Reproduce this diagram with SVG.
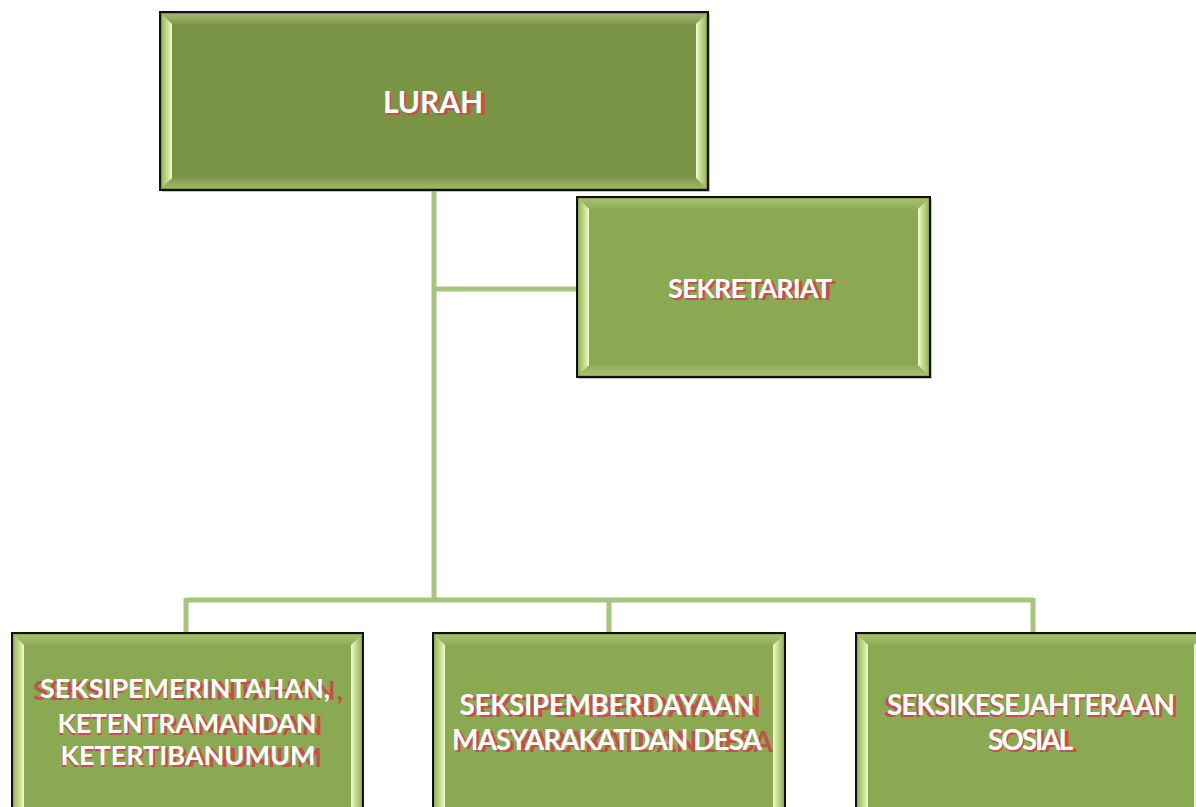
<svg xmlns="http://www.w3.org/2000/svg" width="1196" height="807" viewBox="0 0 1196 807">
<defs>
<linearGradient id="bl" x1="0" y1="0" x2="1" y2="0"><stop offset="0" stop-color="#9fb866"/><stop offset="0.7" stop-color="#d2e7a0"/><stop offset="1" stop-color="#f6ffd6"/></linearGradient>
<linearGradient id="br" x1="1" y1="0" x2="0" y2="0"><stop offset="0" stop-color="#9fb866"/><stop offset="0.7" stop-color="#d2e7a0"/><stop offset="1" stop-color="#f6ffd6"/></linearGradient>
<linearGradient id="bt" x1="0" y1="0" x2="0" y2="1"><stop offset="0" stop-color="#b8cf8a" stop-opacity="0.6"/><stop offset="1" stop-color="#b8cf8a" stop-opacity="0.1"/></linearGradient>
<linearGradient id="bb" x1="0" y1="1" x2="0" y2="0"><stop offset="0" stop-color="#b8cf8a" stop-opacity="0.6"/><stop offset="1" stop-color="#b8cf8a" stop-opacity="0.1"/></linearGradient>
</defs>
<style>
.sh{fill:#9a9a9a;opacity:0.6}
.box{stroke:#111;stroke-width:2}
.dark{fill:#7a9445}
.light{fill:#8ba852}
.t{font-family:Lato,"Open Sans","Liberation Sans",sans-serif;font-weight:bold;text-anchor:middle}
.w{fill:#ffffff}
.r{fill:#c4504e}
.conn{stroke:#a6c47b;stroke-width:5;fill:none}
</style>
<rect width="1196" height="807" fill="#ffffff"/>
<g id="connectors">
<line class="conn" x1="434" y1="190" x2="434" y2="600"/>
<line class="conn" x1="434" y1="289" x2="577" y2="289"/>
<line class="conn" x1="186" y1="600" x2="1033" y2="600"/>
<line class="conn" x1="186" y1="598" x2="186" y2="633"/>
<line class="conn" x1="609" y1="598" x2="609" y2="633"/>
<line class="conn" x1="1033" y1="598" x2="1033" y2="633"/>
</g>
<g id="lurah">
<rect class="sh" x="162" y="14" width="548" height="178"/>
<rect class="box dark" x="160" y="12" width="548" height="178"/>
<polygon fill="url(#bl)" points="162,14 172,24 172,178 162,188"/>
<polygon fill="url(#br)" points="706,14 696,24 696,178 706,188"/>
<polygon fill="url(#bt)" points="162,14 706,14 696,24 172,24"/>
<polygon fill="url(#bb)" points="162,188 706,188 696,178 172,178"/>
<text class="t r" x="436" y="114.5" font-size="30" textLength="102">LURAH</text>
<text class="t w" x="433" y="113" font-size="30" textLength="100">LURAH</text>
</g>
<g id="sekretariat">
<rect class="sh" x="579" y="199" width="353" height="180"/>
<rect class="box light" x="577" y="197" width="353" height="180"/>
<polygon fill="url(#bl)" points="579,199 589,209 589,365 579,375"/>
<polygon fill="url(#br)" points="928,199 918,209 918,365 928,375"/>
<polygon fill="url(#bt)" points="579,199 928,199 918,209 589,209"/>
<polygon fill="url(#bb)" points="579,375 928,375 918,365 589,365"/>
<text class="t r" x="753" y="299.5" font-size="27" textLength="166">SEKRETARIAT</text>
<text class="t w" x="750" y="298" font-size="27" textLength="164">SEKRETARIAT</text>
</g>
<g id="seksi1">
<rect class="box light" x="12" y="633" width="351" height="200"/>
<polygon fill="url(#bl)" points="14,635 24,645 24,833 14,833"/>
<polygon fill="url(#br)" points="361,635 351,645 351,833 361,833"/>
<polygon fill="url(#bt)" points="14,635 361,635 351,645 24,645"/>
<text class="t r" x="188" y="699.5" font-size="27" textLength="310">SEKSIPEMERINTAHAN,</text>
<text class="t w" x="185" y="698" font-size="27" textLength="290">SEKSIPEMERINTAHAN,</text>
<text class="t r" x="190" y="734.5" font-size="27" textLength="265">KETENTRAMANDAN</text>
<text class="t w" x="187" y="733" font-size="27" textLength="259">KETENTRAMANDAN</text>
<text class="t r" x="191" y="766.5" font-size="27" textLength="262">KETERTIBANUMUM</text>
<text class="t w" x="188" y="765" font-size="27" textLength="255">KETERTIBANUMUM</text>
</g>
<g id="seksi2">
<rect class="box light" x="433" y="633" width="352" height="200"/>
<polygon fill="url(#bl)" points="435,635 445,645 445,833 435,833"/>
<polygon fill="url(#br)" points="783,635 773,645 773,833 783,833"/>
<polygon fill="url(#bt)" points="435,635 783,635 773,645 445,645"/>
<text class="t r" x="612" y="716.5" font-size="28" textLength="298">SEKSIPEMBERDAYAAN</text>
<text class="t w" x="607" y="715" font-size="28" textLength="295">SEKSIPEMBERDAYAAN</text>
<text class="t r" x="614" y="751.5" font-size="28" textLength="318">MASYARAKATDAN DESA</text>
<text class="t w" x="607" y="750" font-size="28" textLength="310">MASYARAKATDAN DESA</text>
</g>
<g id="seksi3">
<rect class="box light" x="856" y="633" width="350" height="200"/>
<polygon fill="url(#bl)" points="858,635 868,645 868,833 858,833"/>
<polygon fill="url(#br)" points="1204,635 1194,645 1194,833 1204,833"/>
<polygon fill="url(#bt)" points="858,635 1204,635 1194,645 868,645"/>
<text class="t r" x="1031" y="716.5" font-size="28" textLength="294">SEKSIKESEJAHTERAAN</text>
<text class="t w" x="1031" y="715" font-size="28" textLength="288">SEKSIKESEJAHTERAAN</text>
<text class="t r" x="1033" y="751.5" font-size="28" textLength="88">SOSIAL</text>
<text class="t w" x="1030.5" y="750" font-size="28" textLength="85">SOSIAL</text>
</g>
</svg>
